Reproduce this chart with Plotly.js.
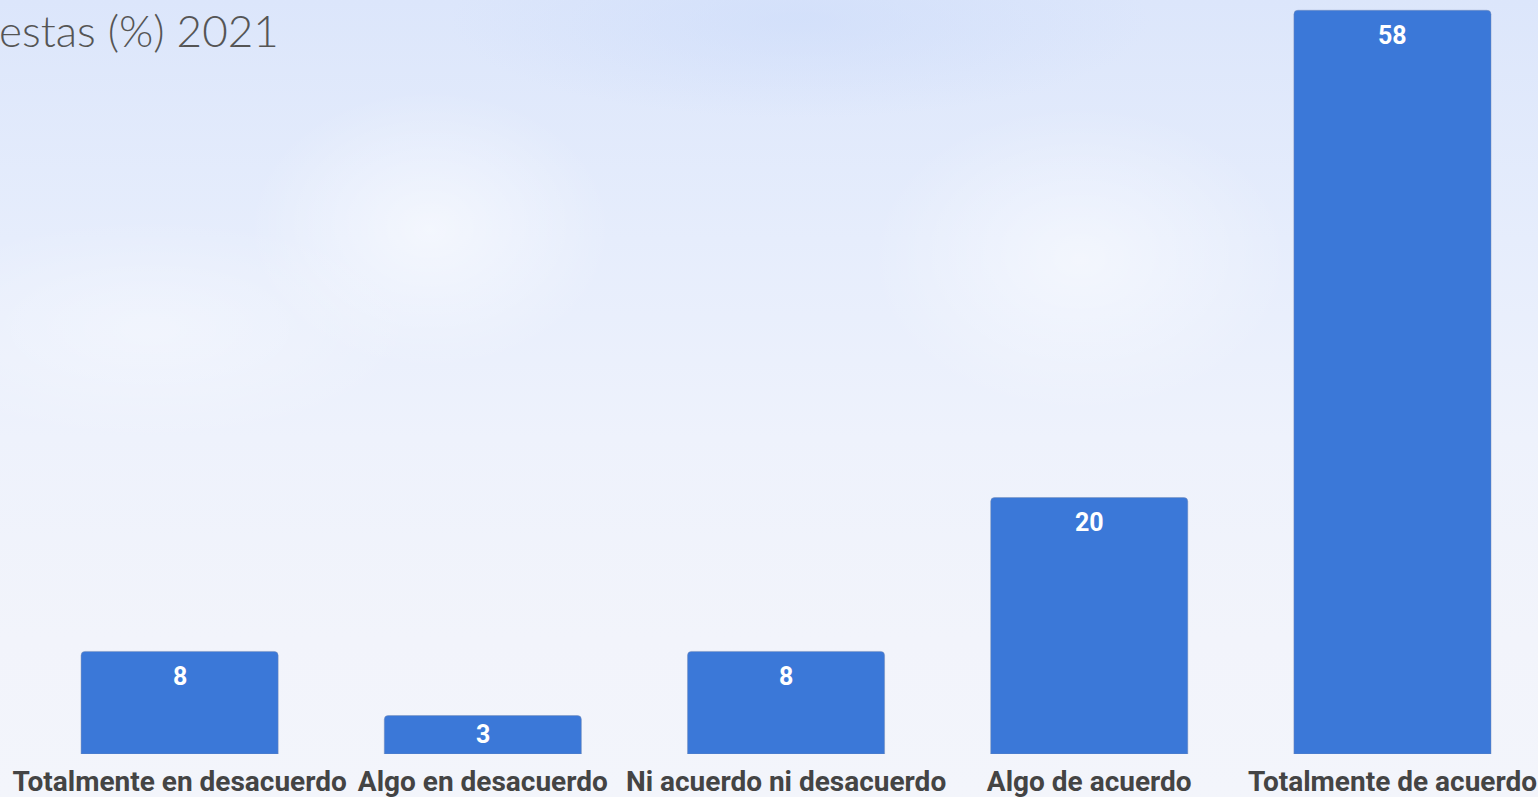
<!DOCTYPE html>
<html>
<head>
<meta charset="utf-8">
<script src="https://cdn.plot.ly/plotly-3.0.1.min.js"></script>
<style>
html,body{margin:0;padding:0;width:1538px;height:797px;overflow:hidden;}
body{
  background:
    radial-gradient(ellipse 260px 200px at 430px 230px, rgba(255,255,255,0.55), rgba(255,255,255,0) 70%),
    radial-gradient(ellipse 300px 220px at 1080px 260px, rgba(255,255,255,0.5), rgba(255,255,255,0) 70%),
    radial-gradient(ellipse 380px 160px at 150px 330px, rgba(255,255,255,0.35), rgba(255,255,255,0) 70%),
    radial-gradient(ellipse 500px 140px at 800px 20px, rgba(205,220,250,0.6), rgba(205,220,250,0) 70%),
    linear-gradient(to bottom, #dce6fb 0%, #e6edfc 30%, #eef2fc 55%, #f2f4fb 80%, #f3f5fb 100%);
}
#chart{width:1538px;height:797px;}
</style>
</head>
<body>
<div id="chart"></div>
<script>
const categories = ["Totalmente en desacuerdo","Algo en desacuerdo","Ni acuerdo ni desacuerdo","Algo de acuerdo","Totalmente de acuerdo"];
const values = [8, 3, 8, 20, 58];
const titleText = "estas (%) 2021";

const yMax = 58.8;
const plotH = 754;
const pxPerUnit = plotH / yMax;

const trace = {
  type: "bar",
  x: categories,
  y: values,
  marker: {color: "#3b78d8", cornerradius: 4, line: {width: 1, color: "rgba(120,140,180,0.45)"}},
  hoverinfo: "x+y",
  width: 0.65
};

const annotations = categories.map((c, i) => {
  const barPx = values[i] * pxPerUnit;
  return {
    x: c, y: values[i], xref: "x", yref: "y",
    text: String(values[i]), showarrow: false,
    yanchor: "middle", yshift: -Math.min(25, barPx / 2),
    font: {family: "Roboto", size: 25, color: "#ffffff", weight: 700}
  };
});
annotations.push({
  xref: "paper", yref: "paper", x: 0, y: 1, xanchor: "left", yanchor: "top",
  xshift: -31, yshift: -2,
  text: titleText, showarrow: false,
  font: {family: "Lato", size: 44, color: "#555555", weight: 300}
});

const layout = {
  width: 1538, height: 797,
  margin: {l: 28, r: 0, t: 0, b: 43, pad: 0},
  paper_bgcolor: "rgba(0,0,0,0)",
  plot_bgcolor: "rgba(0,0,0,0)",
  showlegend: false,
  xaxis: {
    type: "category",
    range: [-0.5, 4.48],
    showgrid: false, zeroline: false, showline: false,
    ticks: "", ticklabelstandoff: 8,
    tickfont: {family: "Roboto", size: 28, color: "#444444", weight: 700}
  },
  yaxis: {
    range: [0, yMax],
    visible: false, showgrid: false, zeroline: false
  },
  annotations: annotations
};

Plotly.newPlot("chart", [trace], layout, {displayModeBar: false, staticPlot: true});
</script>
</body>
</html>
